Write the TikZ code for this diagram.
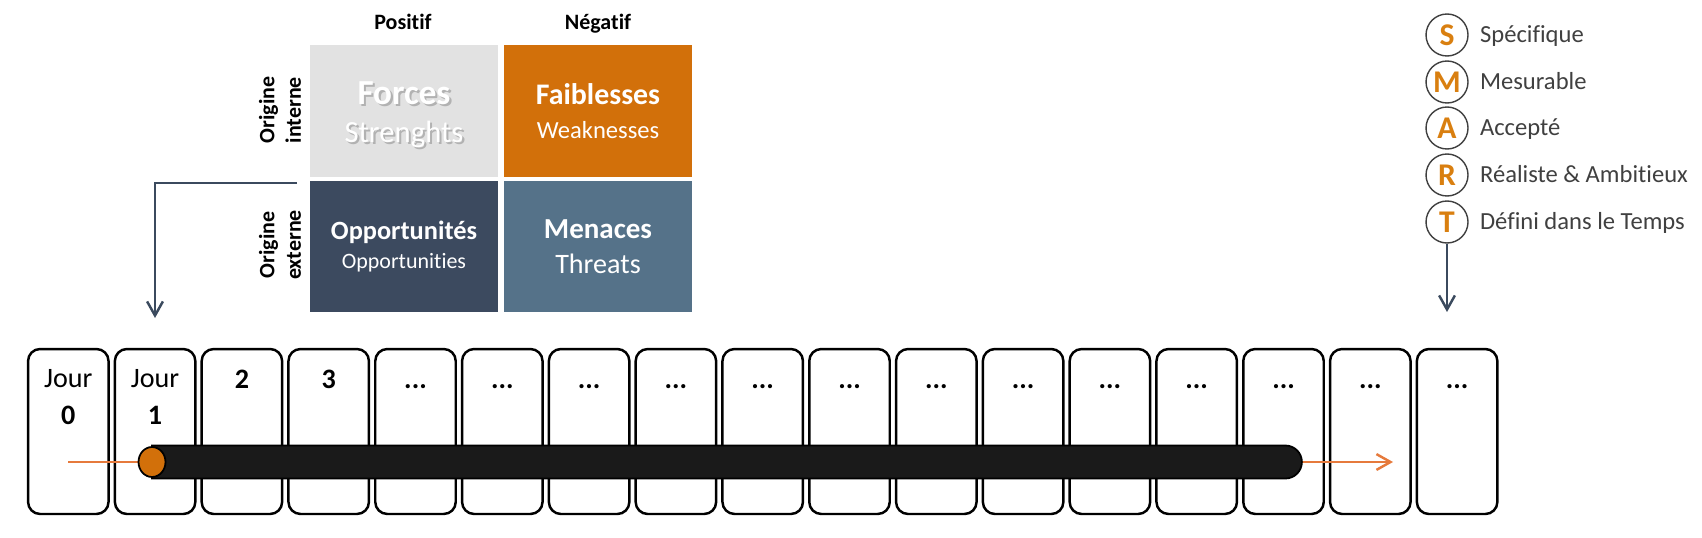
\documentclass[tikz,border=0pt]{standalone}
\usepackage{fontspec}
\setmainfont{Carlito}[Ligatures=NoCommon]
\usetikzlibrary{positioning,arrows.meta,shapes.geometric,shapes.misc}
\definecolor{swotgray}{HTML}{E2E2E2}
\definecolor{swotorange}{HTML}{D2700A}
\definecolor{swotnavy}{HTML}{3C4A5F}
\definecolor{swotblue}{HTML}{557289}
\definecolor{slate}{HTML}{3B4A5E}
\definecolor{lineorange}{HTML}{E67A3C}
\definecolor{smartorange}{HTML}{D97F10}
\definecolor{smarttext}{HTML}{404040}
\definecolor{barblack}{HTML}{1A1A1A}
\newcommand{\swotshadow}[1]{\rlap{\kern1.2pt\raisebox{-1.2pt}{\color{black!30}#1}}#1}

\begin{document}
\begin{tikzpicture}[
  x=0.02cm, y=-0.02cm,
  day/.style={draw, rounded corners=0.24cm, line width=1.4pt,
              minimum width=1.61cm, inner sep=0pt, align=center,
              text height=0.78cm, text depth=2.52cm,
              font=\fontsize{16}{21}\selectfont},
  jour/.style={day, text height=1.5cm, text depth=1.8cm},
  cell/.style={minimum width=3.76cm, minimum height=2.64cm,
               inner sep=0pt, align=center, text=white},
  head/.style={font=\fontsize{12.5}{15}\selectfont\bfseries, anchor=base},
  side/.style={rotate=90, align=center,
               font=\fontsize{12.5}{15}\selectfont\bfseries},
  letter/.style={circle, draw=smarttext, line width=0.8pt, minimum size=0.84cm,
                 inner sep=0pt, text=smartorange,
                 font=\fontsize{18}{21}\selectfont\bfseries},
  item/.style={text=smarttext, font=\fontsize{14}{17}\selectfont,
               inner sep=0pt, text height=1.8ex, text depth=0pt},
  arr/.style={->, >={Straight Barb[length=8pt, width=9pt]}, line width=1.4pt},
  bar/.style={rounded rectangle, rounded rectangle left arc=none,
              fill=barblack, draw=black, line width=1pt,
              minimum width=23cm, minimum height=0.66cm, inner sep=0pt},
]
\useasboundingbox (0,0) rectangle (1702,537);

% ---- SWOT ----
\node[head] (pos) at (403,30) {Positif};
\node[head] (neg) at (598,30) {Négatif};
\node[side] (int) at (280,110) {Origine\\interne};
\node[side] (ext) at (280,245) {Origine\\externe};

\node[cell, fill=swotgray, font=\fontsize{17.5}{21.5}\selectfont] (forces) at (404,111)
  {{\fontsize{20}{22}\selectfont\bfseries\rule{0pt}{18pt}\swotshadow{Forces}}\\\swotshadow{Strenghts}};
\node[cell, fill=swotorange, font=\fontsize{14}{19.5}\selectfont] (faib) at (598,111)
  {{\fontsize{17}{20}\selectfont\bfseries Faiblesses}\\Weaknesses};
\node[cell, fill=swotnavy, font=\fontsize{12.5}{17}\selectfont] (opp) at (404,246.5)
  {{\fontsize{15}{18}\selectfont\bfseries Opportunités}\\Opportunities};
\node[cell, fill=swotblue, font=\fontsize{16}{20}\selectfont] (men) at (598,246.5)
  {{\fontsize{16.5}{20}\selectfont\bfseries Menaces}\\Threats};

% ---- SMART ----
\node[letter] (sS) at (1447,35)  {S};
\node[letter] (sM) at (1447,82)  {M};
\node[letter] (sA) at (1447,128) {A};
\node[letter] (sR) at (1447,175) {R};
\node[letter] (sT) at (1447,222) {T};
\node[item, right=0.22cm of sS] (tS) {Spécifique};
\node[item, right=0.22cm of sM] (tM) {Mesurable};
\node[item, right=0.22cm of sA] (tA) {Accepté};
\node[item, right=0.22cm of sR] (tR) {Réaliste \& Ambitieux};
\node[item, right=0.22cm of sT] (tT) {Défini dans le Temps};

% ---- Days ----
\node[jour] (d0) at (68.3,431.5)   {Jour\\\textbf{0}};
\node[jour] (d1) at (155.1,431.5)  {Jour\\\textbf{1}};
\node[day] (d2)  at (241.9,431.5)  {\textbf{2}};
\node[day] (d3)  at (328.7,431.5)  {\textbf{3}};
\node[day] (d4)  at (415.5,431.5)  {\textbf{...}};
\node[day] (d5)  at (502.3,431.5)  {\textbf{...}};
\node[day] (d6)  at (589.1,431.5)  {\textbf{...}};
\node[day] (d7)  at (675.9,431.5)  {\textbf{...}};
\node[day] (d8)  at (762.7,431.5)  {\textbf{...}};
\node[day] (d9)  at (849.5,431.5)  {\textbf{...}};
\node[day] (d10) at (936.3,431.5)  {\textbf{...}};
\node[day] (d11) at (1023.1,431.5) {\textbf{...}};
\node[day] (d12) at (1109.9,431.5) {\textbf{...}};
\node[day] (d13) at (1196.7,431.5) {\textbf{...}};
\node[day] (d14) at (1283.5,431.5) {\textbf{...}};
\node[day] (d15) at (1370.3,431.5) {\textbf{...}};
\node[day] (d16) at (1457.1,431.5) {\textbf{...}};

% ---- Timeline ----
\coordinate (flowstart) at (68,462);
\coordinate (flowend) at (1393,462);
\draw[arr, lineorange] (flowstart) -- (flowend);
\node[bar] (bar) at (727,462) {};
\node[ellipse, fill=swotorange, draw=black, line width=1pt,
      minimum width=0.54cm, minimum height=0.6cm, inner sep=0pt] (cap) at (152,462) {};

% ---- Links ----
\coordinate (swotout) at (297,183);
\coordinate (swotend) at (155,318);
\draw[arr, slate] (swotout) -| (swotend);
\coordinate (smartend) at (1447,312);
\draw[arr, slate] (sT.south) -- (smartend);

\end{tikzpicture}
\end{document}
